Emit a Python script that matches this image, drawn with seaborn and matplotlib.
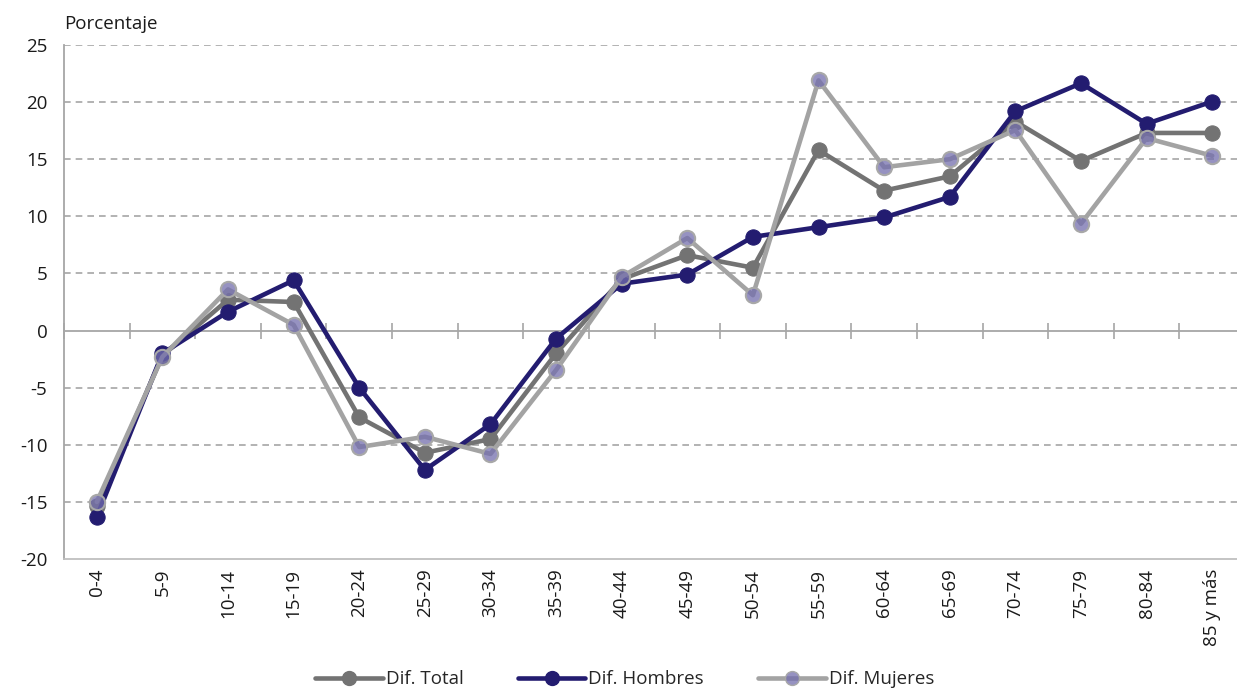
import matplotlib
matplotlib.use("Agg")
import matplotlib.pyplot as plt
import seaborn as sns
import pandas as pd
import numpy as np
from matplotlib.lines import Line2D

grupos = ["0-4", "5-9", "10-14", "15-19", "20-24", "25-29", "30-34", "35-39", "40-44",
          "45-49", "50-54", "55-59", "60-64", "65-69", "70-74", "75-79", "80-84", "85 y más"]
dif_total = [-15.4, -2.2, 2.7, 2.5, -7.6, -10.7, -9.5, -2.0, 4.5,
             6.6, 5.5, 15.8, 12.25, 13.5, 18.3, 14.85, 17.3, 17.3]
dif_hombres = [-16.3, -2.0, 1.65, 4.4, -5.0, -12.2, -8.2, -0.7, 4.1,
               4.9, 8.2, 9.05, 9.9, 11.7, 19.2, 21.65, 18.1, 20.05]
dif_mujeres = [-15.0, -2.3, 3.6, 0.5, -10.2, -9.3, -10.8, -3.45, 4.7,
               8.1, 3.1, 21.9, 14.3, 15.0, 17.55, 9.35, 16.85, 15.3]
series_names = ["Dif. Total", "Dif. Hombres", "Dif. Mujeres"]
y_ticks = [-20, -15, -10, -5, 0, 5, 10, 15, 20, 25]

sns.set_theme(style="white")
plt.rcParams["font.family"] = ["Open Sans", "DejaVu Sans"]

fig = plt.figure(figsize=(12.37, 6.94), dpi=100)
ax = fig.add_axes([64/1237, 1 - 559/694, (1245 - 64)/1237, 514/694])

pos = np.arange(len(grupos))
df = pd.DataFrame({"x": pos, "Dif. Total": dif_total,
                   "Dif. Hombres": dif_hombres, "Dif. Mujeres": dif_mujeres})

c_total = "#737373"
c_hom = "#231C70"
c_muj_line = "#A3A3A3"
c_muj_face = (0.45, 0.43, 0.68, 0.75)
txt = "#1A1A1A"
fs = 13.5

sns.lineplot(data=df, x="x", y="Dif. Total", ax=ax, color=c_total, lw=3.3,
             marker="o", markersize=11, markeredgecolor=c_total, zorder=3)
sns.lineplot(data=df, x="x", y="Dif. Hombres", ax=ax, color=c_hom, lw=3.3,
             marker="o", markersize=11, markeredgecolor=c_hom, zorder=4)
sns.lineplot(data=df, x="x", y="Dif. Mujeres", ax=ax, color=c_muj_line, lw=3.3,
             marker="o", markersize=11, markerfacecolor=c_muj_face,
             markeredgecolor="#A8A8A8", markeredgewidth=1.5, zorder=5)

ax.set_xlim(-0.5, len(grupos) - 0.5)
ax.set_ylim(-20, 25)
ax.set_yticks(y_ticks)
ax.set_yticklabels([str(v) for v in y_ticks], fontsize=fs, color=txt)
ax.set_xticks(pos)
ax.set_xticklabels(grupos, rotation=90, fontsize=fs, color=txt)
ax.tick_params(axis="x", length=0, pad=7)
ax.tick_params(axis="y", length=0, pad=12)
ax.set_xlabel("")
ax.set_ylabel("")

for v in y_ticks:
    if v not in (0, -20):
        ax.axhline(v, color="#A6A6A6", lw=1.2, ls=(0, (4, 3)), zorder=1)

for s in ["top", "right"]:
    ax.spines[s].set_visible(False)
ax.spines["left"].set_color("#A6A6A6")
ax.spines["left"].set_linewidth(1.3)
ax.spines["bottom"].set_color("#BFBFBF")
ax.spines["bottom"].set_linewidth(1.3)

sec = ax.secondary_xaxis(20/45)
sec.set_xticks(np.arange(-0.5, len(grupos), 1.0))
sec.set_xticklabels([])
sec.tick_params(axis="x", direction="inout", length=12, width=1.2, color="#A6A6A6")
sec.spines["bottom"].set_color("#A6A6A6")
sec.spines["bottom"].set_linewidth(1.3)
sec.spines["bottom"].set_zorder(2)

fig.text(64/1237, 1 - 24/694, "Porcentaje", fontsize=fs, color=txt, va="center", ha="left")

handles = [
    Line2D([], [], color=c_total, lw=3.3, marker="o", markersize=10, markeredgecolor=c_total),
    Line2D([], [], color=c_hom, lw=3.3, marker="o", markersize=10, markeredgecolor=c_hom),
    Line2D([], [], color=c_muj_line, lw=3.3, marker="o", markersize=10,
           markerfacecolor=c_muj_face, markeredgecolor="#A8A8A8"),
]
fig.legend(handles, series_names, loc="lower center", bbox_to_anchor=(0.505, -0.016), ncol=3,
           frameon=False, fontsize=fs, handlelength=3.6, handletextpad=0.15,
           columnspacing=2.9)

fig.savefig("out.png", dpi=100)
